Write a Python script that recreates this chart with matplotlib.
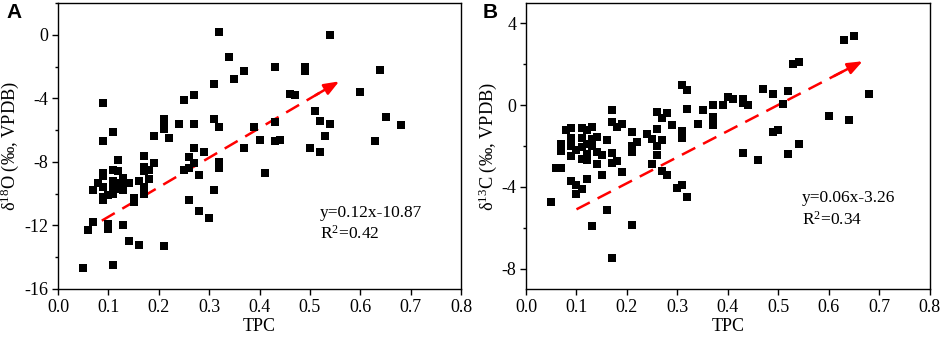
import matplotlib.pyplot as plt
from matplotlib.ticker import MultipleLocator

plt.rcParams['font.family'] = ['Liberation Serif', 'DejaVu Serif']
plt.rcParams['mathtext.fontset'] = 'custom'
plt.rcParams['mathtext.rm'] = 'Liberation Serif'
plt.rcParams['mathtext.it'] = 'Liberation Serif:italic'
plt.rcParams['axes.unicode_minus'] = False

# Panel A: TPC vs d18O
tpc_a = [0.05, 0.06, 0.07, 0.07, 0.08, 0.09, 0.09, 0.09, 0.09, 0.09, 0.09, 0.09,
         0.10, 0.10, 0.10, 0.11, 0.11, 0.11, 0.11, 0.11, 0.11, 0.12, 0.12, 0.12,
         0.12, 0.13, 0.13, 0.13, 0.13, 0.14, 0.14, 0.15, 0.15, 0.16, 0.16, 0.17,
         0.17, 0.17, 0.17, 0.17, 0.18, 0.18, 0.19, 0.19, 0.21, 0.21, 0.21, 0.21,
         0.22, 0.24, 0.25, 0.25, 0.26, 0.26, 0.26, 0.27, 0.27, 0.27, 0.27, 0.28,
         0.28, 0.29, 0.30, 0.31, 0.31, 0.31, 0.32, 0.32, 0.32, 0.32, 0.34, 0.35,
         0.37, 0.37, 0.39, 0.40, 0.41, 0.43, 0.43, 0.43, 0.44, 0.46, 0.47, 0.49,
         0.49, 0.50, 0.51, 0.52, 0.52, 0.53, 0.54, 0.54, 0.60, 0.63, 0.64, 0.65,
         0.68]
d18o = [-14.7, -12.3, -11.8, -9.8, -9.3, -4.3, -6.7, -8.7, -8.9, -9.6, -10.2, -10.4,
        -10.1, -11.9, -12.2, -14.5, -6.1, -8.5, -9.2, -9.6, -10.0, -7.9, -8.6, -9.3,
        -9.7, -9.0, -9.5, -9.8, -12.0, -9.3, -13.0, -10.3, -10.5, -13.2, -9.2, -7.6,
        -8.3, -8.6, -9.6, -10.0, -8.5, -9.1, -6.4, -8.1, -5.3, -5.6, -5.9, -13.3,
        -6.5, -5.6, -4.1, -8.5, -7.7, -8.4, -10.4, -3.8, -5.6, -7.1, -8.1, -8.8,
        -11.1, -7.4, -11.5, -3.1, -5.3, -9.8, 0.2, -5.8, -8.0, -8.4, -1.4, -2.8,
        -2.3, -7.1, -5.8, -6.6, -8.7, -2.0, -5.5, -6.7, -6.6, -3.7, -3.8, -2.0,
        -2.3, -7.1, -4.8, -5.4, -7.4, -6.4, 0.0, -5.6, -3.6, -6.7, -2.2, -5.2,
        -5.7]

# Panel B: TPC vs d13C
tpc_b = [0.05, 0.06, 0.07, 0.07, 0.07, 0.08, 0.09, 0.09, 0.09, 0.09, 0.09, 0.10,
         0.10, 0.10, 0.11, 0.11, 0.11, 0.11, 0.11, 0.12, 0.12, 0.12, 0.12, 0.12,
         0.13, 0.13, 0.13, 0.13, 0.14, 0.14, 0.14, 0.15, 0.15, 0.16, 0.16, 0.17,
         0.17, 0.17, 0.17, 0.17, 0.18, 0.18, 0.19, 0.19, 0.21, 0.21, 0.21, 0.21,
         0.22, 0.24, 0.25, 0.25, 0.26, 0.26, 0.26, 0.26, 0.27, 0.27, 0.27, 0.28,
         0.28, 0.29, 0.30, 0.31, 0.31, 0.31, 0.31, 0.32, 0.32, 0.32, 0.34, 0.35,
         0.37, 0.37, 0.37, 0.39, 0.40, 0.41, 0.43, 0.43, 0.43, 0.44, 0.46, 0.47,
         0.49, 0.49, 0.50, 0.51, 0.52, 0.52, 0.53, 0.54, 0.54, 0.60, 0.63, 0.64,
         0.65, 0.68]
d13c = [-4.75, -3.1, -3.1, -1.9, -2.25, -1.2, -1.1, -1.6, -2.0, -2.5, -3.7, -2.2,
        -3.9, -4.35, -1.1, -1.6, -2.05, -2.65, -4.1, -1.2, -1.9, -2.4, -2.7, -3.6,
        -1.05, -1.65, -2.0, -5.9, -1.55, -2.3, -2.9, -2.45, -3.4, -1.7, -5.15, -0.25,
        -0.8, -2.35, -2.85, -7.5, -1.05, -2.75, -0.9, -3.25, -1.3, -2.0, -2.3, -5.85,
        -1.8, -1.4, -1.65, -2.9, -0.35, -1.15, -2.0, -2.45, -0.65, -1.7, -3.2, -0.4,
        -3.4, -0.95, -4.05, 1.0, -1.25, -1.6, -3.9, 0.75, -0.2, -4.5, -0.9, -0.25,
        0.0, -0.6, -0.95, 0.0, 0.4, 0.3, 0.3, 0.1, -2.35, 0.0, -2.7, 0.8,
        0.55, -1.3, -1.2, 0.05, 0.7, -2.4, 2.0, 2.1, -1.9, -0.55, 3.2, -0.75,
        3.4, 0.55]

# trend arrows (start, end) and fit text
arrow_a = [(0.087, -11.7), (0.558, -2.93)]
arrow_b = [(0.10, -5.1), (0.667, 2.15)]
fit_a = ['y=0.12x-10.87', 'R$^2$=0.42']
fit_b = ['y=0.06x-3.26', 'R$^2$=0.34']


def draw_panel(ax, x, y, arrow, fit, text_xy, ylabel, ylim, yticks, letter, letter_x):
    ax.scatter(x, y, marker='s', s=30, color='black', linewidths=0, zorder=3)
    (x0, y0), (x1, y1) = arrow
    ax.plot([x0, x1 - 0.03 * (x1 - x0)], [y0, y1 - 0.03 * (y1 - y0)],
            color='red', lw=1.8, dashes=(6, 3.5), zorder=2)
    ax.annotate('', xy=(x1, y1), xytext=(x0 + 0.9 * (x1 - x0), y0 + 0.9 * (y1 - y0)),
                arrowprops=dict(arrowstyle='-|>,head_length=0.9,head_width=0.35',
                                color='red', lw=1.8, shrinkA=0, shrinkB=0), zorder=2)
    ax.text(text_xy[0], text_xy[1], fit[0] + '\n' + fit[1], fontsize=12.5,
            va='center', ha='left', linespacing=1.3)
    ax.set_xlim(0, 0.8)
    ax.set_ylim(*ylim)
    ax.set_xticks([0.0, 0.1, 0.2, 0.3, 0.4, 0.5, 0.6, 0.7, 0.8])
    ax.set_yticks(yticks)
    ax.yaxis.set_minor_locator(MultipleLocator(2))
    ax.tick_params(direction='out', labelsize=13, length=4, width=1, pad=3)
    ax.tick_params(which='minor', direction='out', length=2.5, width=1)
    for lbl in ax.get_xticklabels() + ax.get_yticklabels():
        lbl.set_family('Liberation Serif')
    ax.set_xlabel('TPC', fontsize=13, labelpad=2)
    ax.set_ylabel(ylabel, fontsize=13.2, labelpad=2)
    for s in ax.spines.values():
        s.set_linewidth(1.0)
    ax.text(letter_x, 1.0, letter, transform=ax.transAxes, fontsize=15,
            fontweight='bold', family='Liberation Sans', va='top', ha='left')


fig = plt.figure(figsize=(9.41, 3.38), dpi=100)
ax1 = fig.add_axes([0.0616, 0.145, 0.4284, 0.846])
ax2 = fig.add_axes([0.559, 0.145, 0.429, 0.846])

draw_panel(ax1, tpc_a, d18o, arrow_a, fit_a, (0.52, -11.9),
           'δ$^{18}$O (‰, VPDB)', (-16, 2), [-16, -12, -8, -4, 0], 'A', -0.128)
draw_panel(ax2, tpc_b, d13c, arrow_b, fit_b, (0.546, -5.1),
           'δ$^{13}$C (‰, VPDB)', (-9, 5), [-8, -4, 0, 4], 'B', -0.107)

fig.savefig('out.png', dpi=100)
